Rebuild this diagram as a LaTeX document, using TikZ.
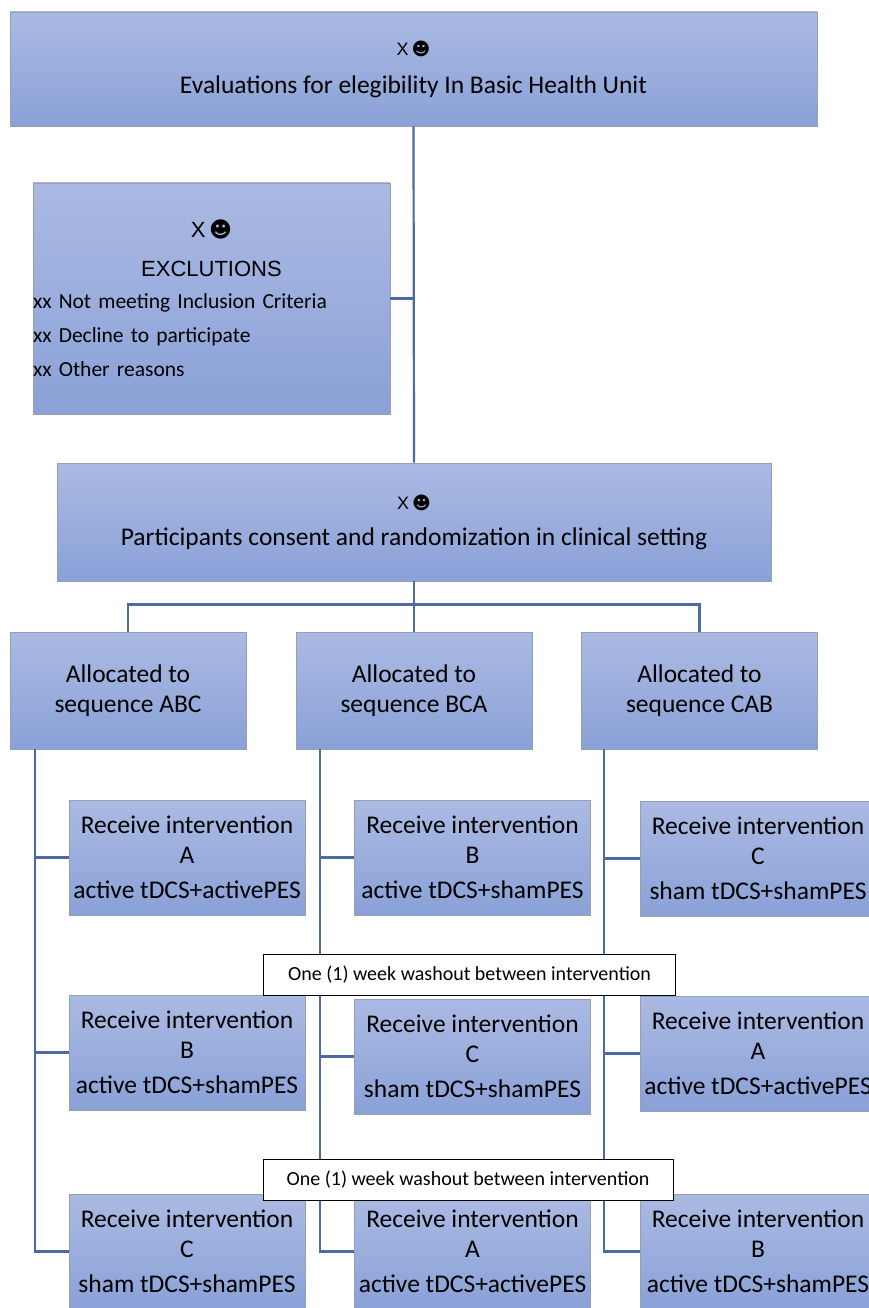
\documentclass[tikz,border=0pt]{standalone}
\usepackage{fontspec}
\setmainfont{Carlito}
\newfontfamily\arialfont{Liberation Sans}
\newfontfamily\smileyfont{DejaVu Sans}
\definecolor{boxtop}{RGB}{171,186,227}
\definecolor{boxbot}{RGB}{138,161,215}
\definecolor{boxedge}{RGB}{150,158,180}
\definecolor{linkblue}{RGB}{76,106,164}
\newcommand{\xsmile}{{\arialfont X\,}{\smileyfont ☻}}

\begin{document}
\begin{tikzpicture}[x=1pt,y=-1pt,
    box/.style={top color=boxtop,bottom color=boxbot,draw=boxedge,line width=0.8pt,
      inner sep=0pt,align=center,font=\fontsize{25.5}{30}\selectfont},
    stepbox/.style={box,minimum width=236pt,minimum height=115pt},
    seqbox/.style={box,minimum width=236pt,minimum height=117pt},
    link/.style={draw=linkblue,line width=2.2pt},
    washout/.style={draw=black,fill=white,line width=0.9pt,minimum width=412pt,
      minimum height=41pt,inner sep=0pt,font=\fontsize{20}{22}\selectfont}]
    \useasboundingbox (0,0) rectangle (868,1308);

    \node[box,minimum width=807pt,minimum height=114pt] (eval) at (413.5,69)
        {{\fontsize{18}{20}\selectfont\xsmile}\\[8pt]Evaluations for elegibility In Basic Health Unit};
    \node[box,minimum width=357pt,minimum height=231pt,text width=357pt,align=left,
        font=\fontsize{21.5}{34}\selectfont] (excl) at (211.5,298.5)
        {\makebox[357pt]{\fontsize{22}{24}\selectfont\xsmile}\\[5pt]
         \makebox[357pt]{\arialfont\fontsize{22}{24}\selectfont EXCLUTIONS}\\[-2pt]
         xx Not meeting Inclusion Criteria\\
         xx Decline to participate\\
         xx Other reasons};
    \node[box,minimum width=714pt,minimum height=118pt] (consent) at (414,522)
        {{\fontsize{18}{20}\selectfont\xsmile}\\[6pt]Participants consent and randomization in clinical setting};

    \node[seqbox] (abc) at (128,690.5) {Allocated to\\sequence ABC};
    \node[seqbox] (bca) at (414,690.5) {Allocated to\\sequence BCA};
    \node[seqbox] (cab) at (699.5,690.5) {Allocated to\\sequence CAB};

    \node[stepbox] (abcA) at (187,857.5) {Receive intervention\\A\\[5pt]active tDCS+activePES};
    \node[stepbox] (bcaB) at (472.5,857.5) {Receive intervention\\B\\[5pt]active tDCS+shamPES};
    \node[stepbox] (cabC) at (758,858.5) {Receive intervention\\C\\[5pt]sham tDCS+shamPES};

    \node[stepbox] (abcB) at (187,1052.5) {Receive intervention\\B\\[5pt]active tDCS+shamPES};
    \node[stepbox] (bcaC) at (472.5,1056.5) {Receive intervention\\C\\[5pt]sham tDCS+shamPES};
    \node[stepbox] (cabA) at (758,1053.5) {Receive intervention\\A\\[5pt]active tDCS+activePES};

    \node[stepbox] (abcC) at (187,1251.5) {Receive intervention\\C\\[5pt]sham tDCS+shamPES};
    \node[stepbox] (bcaA) at (472.5,1251.5) {Receive intervention\\A\\[5pt]active tDCS+activePES};
    \node[stepbox] (cabB) at (758,1251.5) {Receive intervention\\B\\[5pt]active tDCS+shamPES};

    \draw[link] (eval.south) -- (consent.north);
    \draw[link] (excl.east) -- (excl.east -| eval.south);

    \coordinate (split) at ([yshift=-23pt]consent.south);
    \draw[link] (consent.south) -- (split);
    \draw[link] (abc.north) |- (split) -| (cab.north);
    \draw[link] (split) -- (bca.north);

    \coordinate (abcroot) at ([xshift=25pt]abc.south west);
    \coordinate (bcaroot) at ([xshift=24pt]bca.south west);
    \coordinate (cabroot) at ([xshift=23pt]cab.south west);
    \draw[link] (abcroot) |- (abcA.west);
    \draw[link] (abcroot) |- (abcB.west);
    \draw[link] (abcroot) |- (abcC.west);
    \draw[link] (bcaroot) |- (bcaB.west);
    \draw[link] (bcaroot) |- (bcaC.west);
    \draw[link] (bcaroot) |- (bcaA.west);
    \draw[link] (cabroot) |- (cabC.west);
    \draw[link] (cabroot) |- (cabA.west);
    \draw[link] (cabroot) |- (cabB.west);

    \node[washout] (wash1) at (469.5,975) {One (1) week washout between intervention};
    \node[washout,minimum width=410pt] (wash2) at (468,1179.5) {One (1) week washout between intervention};
\end{tikzpicture}
\end{document}
